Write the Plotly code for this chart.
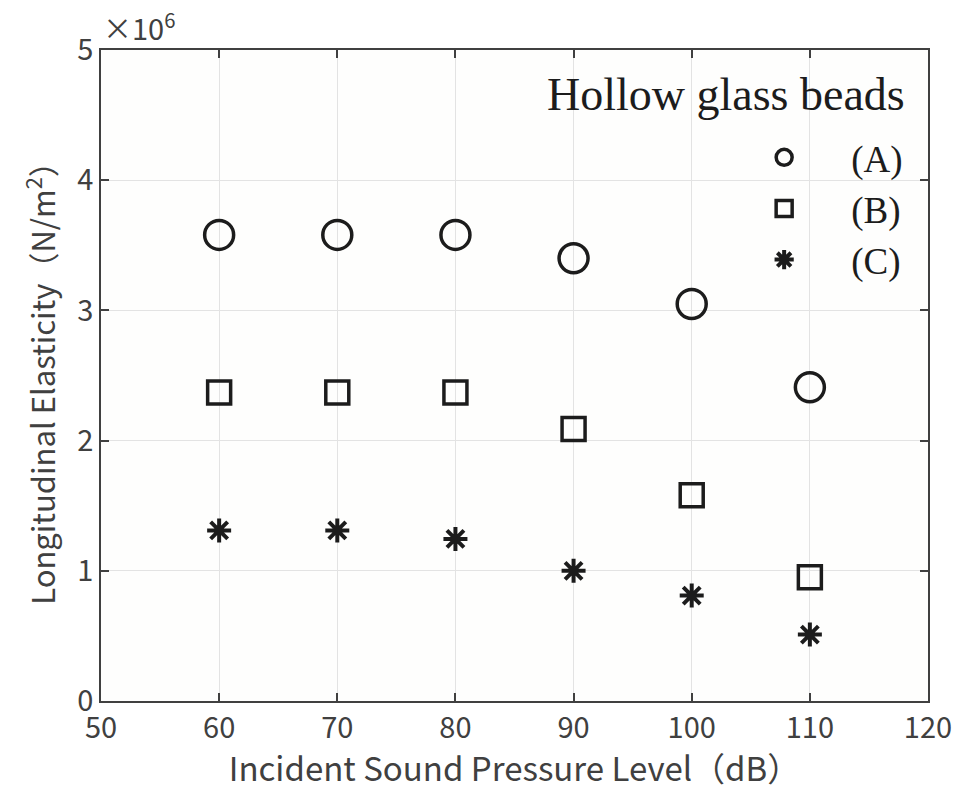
import plotly.graph_objects as go

spl = [60, 70, 80, 90, 100, 110]
elast_A = [3.58e6, 3.58e6, 3.58e6, 3.40e6, 3.05e6, 2.41e6]
elast_B = [2.37e6, 2.37e6, 2.37e6, 2.09e6, 1.58e6, 0.95e6]
elast_C = [1.31e6, 1.31e6, 1.245e6, 1.00e6, 0.81e6, 0.51e6]
names = ["(A)", "(B)", "(C)"]
y_ticks = [0, 1e6, 2e6, 3e6, 4e6, 5e6]
y_ticktext = ["0", "1", "2", "3", "4", "5"]
x_ticks = [50, 60, 70, 80, 90, 100, 110, 120]

ink = "#1c1c1c"
axc = "#404040"
fig = go.Figure()
fig.add_trace(go.Scatter(x=spl, y=elast_A, mode="markers", name=names[0],
    marker=dict(symbol="circle-open", size=29, color=ink, line=dict(width=3.5, color=ink))))
fig.add_trace(go.Scatter(x=spl, y=elast_B, mode="markers", name=names[1],
    marker=dict(symbol="square-open", size=23, color=ink, line=dict(width=3.5, color=ink))))
fig.add_trace(go.Scatter(x=spl, y=elast_C, mode="markers", name=names[2],
    marker=dict(symbol="asterisk-open", size=20, color=ink, line=dict(width=4, color=ink))))

gothic = "Noto Sans CJK JP"
fig.update_layout(
    width=964, height=791,
    margin=dict(l=101, r=32, t=50, b=90),
    paper_bgcolor="white", plot_bgcolor="#fefefd",
    font=dict(family=gothic, color=axc, size=28),
    showlegend=True,
    legend=dict(x=0.976, xanchor="right", y=0.882, yanchor="top",
                bgcolor="rgba(0,0,0,0)", itemwidth=124, tracegroupgap=0,
                font=dict(family="Liberation Serif", size=37, color=ink)),
    annotations=[
        dict(text="Hollow glass beads", xref="paper", yref="paper", x=0.975, y=0.974,
             xanchor="right", yanchor="top", showarrow=False,
             font=dict(family="Liberation Serif", size=46, color=ink)),
        dict(text="\u00d710<sup>6</sup>", xref="paper", yref="paper", x=0.0, y=1.0,
             xanchor="left", yanchor="bottom", showarrow=False,
             font=dict(family=gothic, size=29, color=axc)),
    ],
)
fig.update_xaxes(range=[50, 120], tickvals=x_ticks, showgrid=True, gridcolor="#e3e3e3", gridwidth=1,
                 showline=True, linecolor=axc, linewidth=1.5, mirror="ticks",
                 ticks="inside", ticklen=8, tickcolor=axc, tickwidth=1.5, zeroline=False,
                 tickfont=dict(size=29),
                 title=dict(text="Incident Sound Pressure Level\uff08dB\uff09", font=dict(size=33), standoff=6))
fig.update_yaxes(range=[0, 5e6], tickvals=y_ticks, ticktext=y_ticktext, showgrid=True,
                 gridcolor="#e3e3e3", gridwidth=1,
                 showline=True, linecolor=axc, linewidth=1.5, mirror="ticks",
                 ticks="inside", ticklen=8, tickcolor=axc, tickwidth=1.5, zeroline=False,
                 tickfont=dict(size=29),
                 title=dict(text="Longitudinal Elasticity\uff08N/m<sup>2</sup>\uff09", font=dict(size=31), standoff=12))
fig.write_html("out.html")
